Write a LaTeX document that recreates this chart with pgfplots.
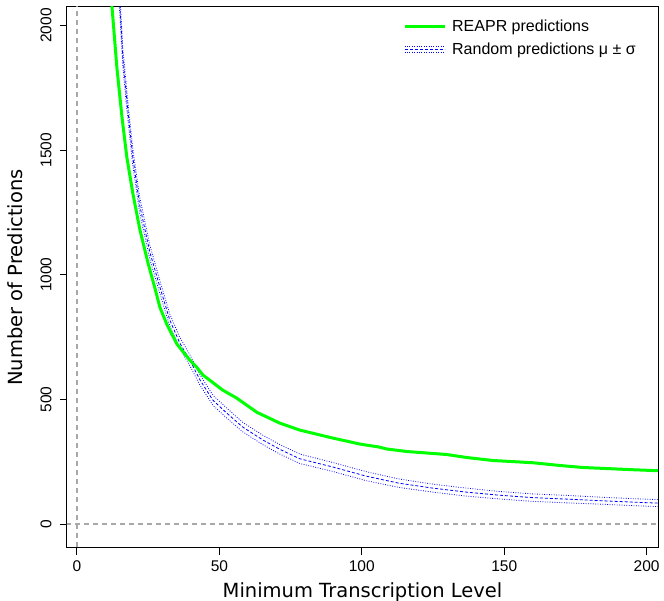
\documentclass[border=0pt]{standalone}
\usepackage{fontspec}
\setmainfont{Liberation Sans}
\newfontfamily\dejavu{DejaVu Sans}
\usepackage{pgfplots}
\pgfplotsset{compat=1.18}

\definecolor{rgreen}{RGB}{0,255,0}
\definecolor{rblue}{RGB}{0,0,255}
\definecolor{refgray}{RGB}{168,168,168}

% REAPR predictions
\pgfplotstableread{
x y
11.0 2300
12.3 2074
14.0 1833
15.8 1633
17.5 1472
19.6 1328
22.1 1180
25.0 1045
27.4 945
29.1 870
31.6 800
35.1 722
39.6 658
42.1 628
44.2 598
51.2 537
56.1 505
63.2 448
71.2 405
78.2 377
89.8 345
99.3 321
106.0 309
108.8 301
115.8 291
129.8 279
136.8 267
146.0 255
160.0 246
169.5 235
177.5 227
195.0 218
204.0 214
}\reapr

% Random predictions: mean, mean+sd, mean-sd
\pgfplotstableread{
x mean up lo
13.5 2400 2440 2360
15.1 2074 2114 2034
16.1 1873 1910 1836
17.5 1701 1738 1664
19.6 1472 1506 1438
22.0 1280 1312 1248
25.6 1090 1118 1062
29.1 951 977 925
32.6 818 842 794
36.1 726 749 703
39.6 658 680 636
43.2 578 599 557
47.7 497 517 477
52.6 445 465 425
58.2 389 408 370
65.3 337 356 318
71.2 300 319 281
78.2 262 281 243
89.8 229 247 211
101.6 192 210 174
113.0 164 181 147
125.0 144 160 128
136.8 128 144 112
148.0 116 131 101
160.0 106 121 91
172.0 100 115 85
183.5 94 108 80
195.0 88 102 74
204.0 84 98 70
}\randpred

\begin{document}
\begin{tikzpicture}
\begin{axis}[
    width=591pt, height=541pt, scale only axis,
    xmin=-3.5, xmax=204,
    ymin=-96, ymax=2074,
    xtick={0,50,100,150,200},
    ytick={0,500,1000,1500,2000},
    tick pos=left, tick align=outside,
    major tick length=7pt,
    axis line style={line width=1pt},
    every tick/.style={black, line width=1pt},
    /pgf/number format/assume math mode=true,
    /pgf/number format/1000 sep={},
    ticklabel style={font=\fontsize{15.5}{18}\selectfont},
    xticklabel shift=2pt,
    yticklabel style={rotate=90, anchor=south},
    yticklabel shift=5pt,
    every axis x label/.style={at={(axis description cs:0.5,-0.0906)}, anchor=base},
    every axis y label/.style={at={(axis description cs:-0.0745,0.5)}, rotate=90, anchor=base},
    label style={font=\dejavu\fontsize{19.5}{23}\selectfont},
    xlabel={Minimum Transcription Level},
    ylabel={Number of Predictions},
    legend style={at={(axis description cs:0.5685,0.980)}, anchor=north west,
        draw=none, fill=none, inner sep=0pt,
        font=\fontsize{16}{19}\selectfont, row sep=6pt,
        /tikz/every odd column/.append style={column sep=4pt}},
    legend cell align=left,
  ]

  \addlegendimage{legend image code/.code={\draw[rgreen, line width=3pt] (0pt,0pt) -- (40pt,0pt);}}
  \addlegendentry{REAPR predictions}
  \addlegendimage{legend image code/.code={
      \draw[rblue, line width=0.8pt, dash pattern=on 0.8pt off 1.6pt] (0pt,3pt) -- (40pt,3pt);
      \draw[rblue, line width=0.8pt, dash pattern=on 0.8pt off 1.6pt] (0pt,-3pt) -- (40pt,-3pt);
      \draw[rblue, line width=0.8pt, dash pattern=on 3pt off 2pt] (0pt,0pt) -- (40pt,0pt);}}
  \addlegendentry{Random predictions μ ± σ}

  % reference lines at zero
  \addplot[refgray, line width=1.2pt, dash pattern=on 5pt off 4pt, forget plot]
    coordinates {(0,-200) (0,2200)};
  \addplot[refgray, line width=1.2pt, dash pattern=on 5pt off 4pt, forget plot]
    coordinates {(-10,0) (210,0)};

  \addplot[rblue, line width=0.8pt, dash pattern=on 0.8pt off 1.6pt, forget plot] table[x=x, y=up] {\randpred};
  \addplot[rblue, line width=0.8pt, dash pattern=on 0.8pt off 1.6pt, forget plot] table[x=x, y=lo] {\randpred};
  \addplot[rblue, line width=0.8pt, dash pattern=on 3pt off 2pt, forget plot] table[x=x, y=mean] {\randpred};

  \addplot[rgreen, line width=3pt, forget plot] table[x=x, y=y] {\reapr};

\end{axis}
\pgfresetboundingbox
\path (-67pt,-53pt) rectangle (597pt,548pt);
\end{tikzpicture}
\end{document}
